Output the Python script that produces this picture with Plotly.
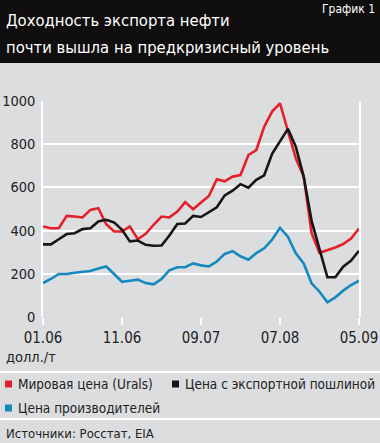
import plotly.graph_objects as go

# ---- data ----
months = [f"{m:02d}.{y:02d}" for y in (6, 7, 8, 9) for m in range(1, 13)][:41]
tick_labels = ["01.06", "11.06", "09.07", "07.08", "05.09"]
urals = [419, 411, 411, 468, 465, 461, 496, 504, 430, 396, 396, 419, 360, 385, 427,
         465, 461, 488, 532, 499, 530, 560, 638, 628, 650, 657, 750, 773, 881, 951,
         989, 862, 735, 650, 388, 297, 309, 322, 338, 363, 410]
export_duty = [336, 336, 360, 384, 388, 407, 411, 442, 450, 438, 404, 350, 354, 334, 330,
               331, 377, 431, 433, 468, 463, 487, 508, 563, 585, 615, 599, 635, 656, 755,
               812, 871, 789, 650, 445, 310, 184, 184, 233, 261, 307]
producers = [157, 176, 199, 199, 205, 210, 213, 225, 234, 199, 163, 168, 173, 157, 151,
             176, 216, 230, 231, 248, 239, 234, 257, 292, 305, 281, 265, 296, 318, 358,
             413, 372, 295, 248, 156, 117, 68, 91, 122, 148, 168]
series_names = ["Мировая цена (Urals)", "Цена с экспортной пошлиной", "Цена производителей"]
colors = ["#e4202a", "#161616", "#1489c0"]

W, H = 380, 443
L, R, T, B = 43, 359, 101, 317
FONT = "DejaVu Sans Condensed, Liberation Sans Narrow, sans-serif"
BG = "#dcdddf"
TXT = "#222222"


def px(x):
    return (x - L) / (R - L)


def py(y):
    return (B - y) / (B - T)


fig = go.Figure()
for name, vals, c in zip(series_names, [urals, export_duty, producers], colors):
    fig.add_trace(go.Scatter(x=months, y=vals, mode="lines", name=name,
                             line=dict(color=c, width=2.6), showlegend=False))

shapes = [
    dict(type="rect", xref="paper", yref="paper", x0=px(0), x1=px(W), y0=py(63), y1=py(0),
         fillcolor="#100e0e", line=dict(width=0), layer="below"),
    dict(type="line", xref="paper", yref="paper", x0=px(0), x1=px(W), y0=py(372), y1=py(372),
         line=dict(color="white", width=2)),
    dict(type="line", xref="paper", yref="paper", x0=px(0), x1=px(W), y0=py(419), y1=py(419),
         line=dict(color="white", width=2)),
]
annotations = [
    dict(text="Доходность экспорта нефти", x=px(4), y=py(20), xanchor="left", yanchor="middle",
         font=dict(size=16.5, color="white", family=FONT)),
    dict(text="почти вышла на предкризисный уровень", x=px(4), y=py(47), xanchor="left",
         yanchor="middle", font=dict(size=16.5, color="white", family=FONT)),
    dict(text="График 1", x=px(377), y=py(9), xanchor="right", yanchor="middle",
         font=dict(size=12, color="white", family=FONT)),
    dict(text="долл./т", x=px(4), y=py(357), xanchor="left", yanchor="middle",
         font=dict(size=14.5, color=TXT, family=FONT)),
    dict(text="Источники: Росстат, EIA", x=px(4), y=py(434), xanchor="left", yanchor="middle",
         font=dict(size=13, color=TXT, family=FONT)),
]
legend_pos = [(5, 384), (172, 384), (5, 408)]
for (lx, ly), name, c in zip(legend_pos, series_names, colors):
    shapes.append(dict(type="rect", xref="paper", yref="paper", x0=px(lx), x1=px(lx + 7),
                       y0=py(ly + 3.5), y1=py(ly - 3.5), fillcolor=c, line=dict(width=0)))
    annotations.append(dict(text=name, x=px(lx + 11), y=py(ly), xanchor="left", yanchor="middle",
                            font=dict(size=13.5, color=TXT, family=FONT)))
for a in annotations:
    a.update(xref="paper", yref="paper", showarrow=False)

fig.update_layout(
    width=W, height=H,
    margin=dict(l=L, r=W - R, t=T, b=H - B, pad=0),
    paper_bgcolor=BG, plot_bgcolor=BG,
    shapes=shapes, annotations=annotations,
    xaxis=dict(type="category", range=[0, 40], showgrid=False, zeroline=False,
               automargin=False,
               tickmode="array", tickvals=tick_labels, ticktext=tick_labels,
               ticks="outside", ticklen=7, tickwidth=1.5, tickcolor="white",
               showline=False, tickfont=dict(size=15, color=TXT, family=FONT)),
    yaxis=dict(range=[0, 1000], tickvals=[0, 200, 400, 600, 800, 1000],
               automargin=False,
               showgrid=True, gridcolor="white", gridwidth=1.5, zeroline=False,
               showline=True, linecolor="white", linewidth=1.5, mirror=True,
               ticks="", ticklabelstandoff=3,
               tickfont=dict(size=14.5, color=TXT, family=FONT)),
)

fig.write_html("out.html", config={"displayModeBar": False},
               post_script="document.body.style.margin='0';")
